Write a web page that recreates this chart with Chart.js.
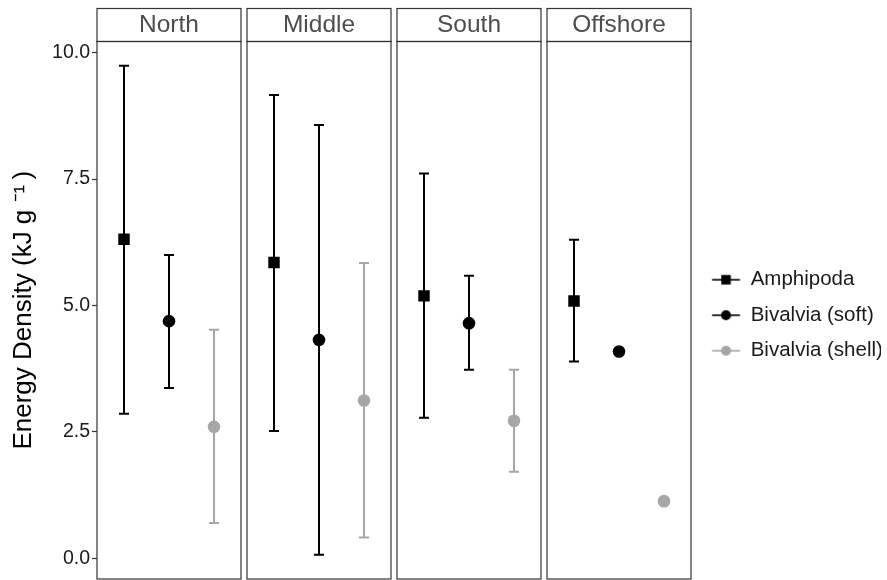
<!DOCTYPE html>
<html>
<head>
<meta charset="utf-8">
<script src="https://cdn.jsdelivr.net/npm/chart.js@4.4.1/dist/chart.umd.min.js"></script>
<style>
  body { margin: 0; background: #fff; width: 887px; height: 580px; overflow: hidden; position: relative; }
  .panel { position: absolute; top: 0; height: 580px; }
</style>
</head>
<body>
<div class="panel" style="left:0;width:242px"><canvas id="c0"></canvas></div>
<div class="panel" style="left:246px;width:146px"><canvas id="c1"></canvas></div>
<div class="panel" style="left:396px;width:146px"><canvas id="c2"></canvas></div>
<div class="panel" style="left:546px;width:341px"><canvas id="c3"></canvas></div>
<script>
const regions = ['North', 'Middle', 'South', 'Offshore'];
const taxa = ['Amphipoda', 'Bivalvia (soft)', 'Bivalvia (shell)'];
const yTicks = [0, 2.5, 5, 7.5, 10];
const yTickLabels = ['0.0', '2.5', '5.0', '7.5', '10.0'];

// mean and error bar ends per region (North, Middle, South, Offshore)
const amphipodaMean = [6.31, 5.85, 5.19, 5.09];
const amphipodaLow = [2.86, 2.52, 2.78, 3.89];
const amphipodaHigh = [9.74, 9.16, 7.61, 6.30];
const softMean = [4.69, 4.32, 4.65, 4.09];
const softLow = [3.37, 0.07, 3.73, null];
const softHigh = [6.00, 8.57, 5.59, null];
const shellMean = [2.60, 3.12, 2.72, 1.13];
const shellLow = [0.70, 0.41, 1.71, null];
const shellHigh = [4.52, 5.84, 3.73, null];

const means = [amphipodaMean, softMean, shellMean];
const lows = [amphipodaLow, softLow, shellLow];
const highs = [amphipodaHigh, softHigh, shellHigh];
const colors = ['#000000', '#000000', '#a6a6a6'];
const shapes = ['rect', 'circle', 'circle'];
const radii = [8.1, 6.3, 6.3];

Chart.defaults.font.family = "'Liberation Sans', Arial, sans-serif";
Chart.defaults.animation = false;

// draws the panel frame and the strip box above it
const facetFrame = {
  id: 'facetFrame',
  afterDraw(chart) {
    const { ctx, chartArea: a } = chart;
    ctx.save();
    ctx.strokeStyle = '#333333';
    ctx.lineWidth = 1.2;
    ctx.strokeRect(a.left, a.top - 33, a.right - a.left, 33);
    ctx.strokeRect(a.left, a.top, a.right - a.left, a.bottom - a.top);
    ctx.restore();
  }
};

// vertical error bars with caps, drawn under the points
const errorBars = {
  id: 'errorBars',
  beforeDatasetsDraw(chart) {
    const { ctx, scales: { x, y } } = chart;
    ctx.save();
    chart.data.datasets.forEach((ds) => {
      if (ds.low == null || ds.high == null) return;
      const px = x.getPixelForValue(ds.data[0].x);
      const y1 = y.getPixelForValue(ds.low);
      const y2 = y.getPixelForValue(ds.high);
      ctx.strokeStyle = ds.borderColor;
      ctx.lineWidth = 2;
      ctx.beginPath();
      ctx.moveTo(px, y1); ctx.lineTo(px, y2);
      ctx.moveTo(px - 5, y1); ctx.lineTo(px + 5, y1);
      ctx.moveTo(px - 5, y2); ctx.lineTo(px + 5, y2);
      ctx.stroke();
    });
    ctx.restore();
  }
};

function legendIcon(k) {
  const c = document.createElement('canvas');
  c.width = 40; c.height = 16;
  const g = c.getContext('2d');
  const cx = 22.8, cy = 8;
  g.strokeStyle = colors[k]; g.fillStyle = colors[k]; g.lineWidth = 1.6;
  g.beginPath(); g.moveTo(cx - 14, cy); g.lineTo(cx + 14, cy); g.stroke();
  if (shapes[k] === 'rect') {
    g.fillRect(cx - 4.75, cy - 4.75, 9.5, 9.5);
  } else {
    g.beginPath(); g.arc(cx, cy, 5, 0, Math.PI * 2); g.fill();
  }
  return c;
}
const legendIcons = taxa.map((t, k) => legendIcon(k));

function makePanel(i) {
  const first = i === 0;
  const last = i === regions.length - 1;
  const datasets = taxa.map((t, k) => ({
    label: t,
    data: [{ x: k + 1, y: means[k][i] }],
    low: lows[k][i],
    high: highs[k][i],
    borderColor: colors[k],
    backgroundColor: colors[k],
    pointStyle: shapes[k],
    pointRadius: radii[k],
    pointBorderWidth: 0
  }));
  new Chart(document.getElementById('c' + i), {
    type: 'scatter',
    data: { datasets },
    options: {
      responsive: true,
      maintainAspectRatio: false,
      layout: {
        autoPadding: false,
        padding: { top: 8.5, bottom: 1, left: first ? 0 : 1, right: last ? 6 : 1 }
      },
      scales: {
        x: { type: 'linear', min: 0.4, max: 3.6, display: false },
        y: {
          type: 'linear',
          min: -0.409,
          max: 10.22,
          display: first,
          afterFit: (s) => {
            if (first) s.width = 97;
            s.paddingTop = 0;
            s.paddingBottom = 0;
          },
          afterBuildTicks: (s) => { s.ticks = yTicks.map((v) => ({ value: v })); },
          border: { display: false },
          grid: { drawOnChartArea: false, drawTicks: true, tickLength: 5, tickColor: '#333333', tickWidth: 1.2 },
          ticks: {
            padding: 2,
            color: '#1a1a1a',
            font: { size: 19.5 },
            callback: (v) => yTickLabels[yTicks.indexOf(v)]
          },
          title: {
            display: true,
            text: 'Energy Density (kJ g \u207B\u00B9\u2009)',
            color: '#000000',
            font: { size: 26 },
            padding: { top: 8, bottom: 0 }
          }
        }
      },
      plugins: {
        tooltip: { enabled: false },
        title: {
          display: true,
          text: regions[i],
          fullSize: false,
          color: '#4d4d4d',
          font: { size: 24.5, weight: 'normal', lineHeight: 1.2 },
          padding: { top: 2, bottom: 1.6 }
        },
        legend: {
          display: last,
          position: 'right',
          fullSize: false,
          maxWidth: 190,
          title: { display: true, text: '', padding: 0, font: { size: 10, lineHeight: 1 } },
          labels: {
            usePointStyle: true,
            pointStyleWidth: 34.45,
            padding: 15,
            color: '#1a1a1a',
            font: { size: 20.5 },
            generateLabels: () => taxa.map((t, k) => ({
              text: t,
              pointStyle: legendIcons[k],
              fillStyle: colors[k],
              strokeStyle: colors[k],
              fontColor: '#1a1a1a',
              lineWidth: 0,
              hidden: false,
              datasetIndex: k
            }))
          }
        }
      }
    },
    plugins: [facetFrame, errorBars]
  });
}

regions.forEach((r, i) => makePanel(i));
</script>
</body>
</html>
